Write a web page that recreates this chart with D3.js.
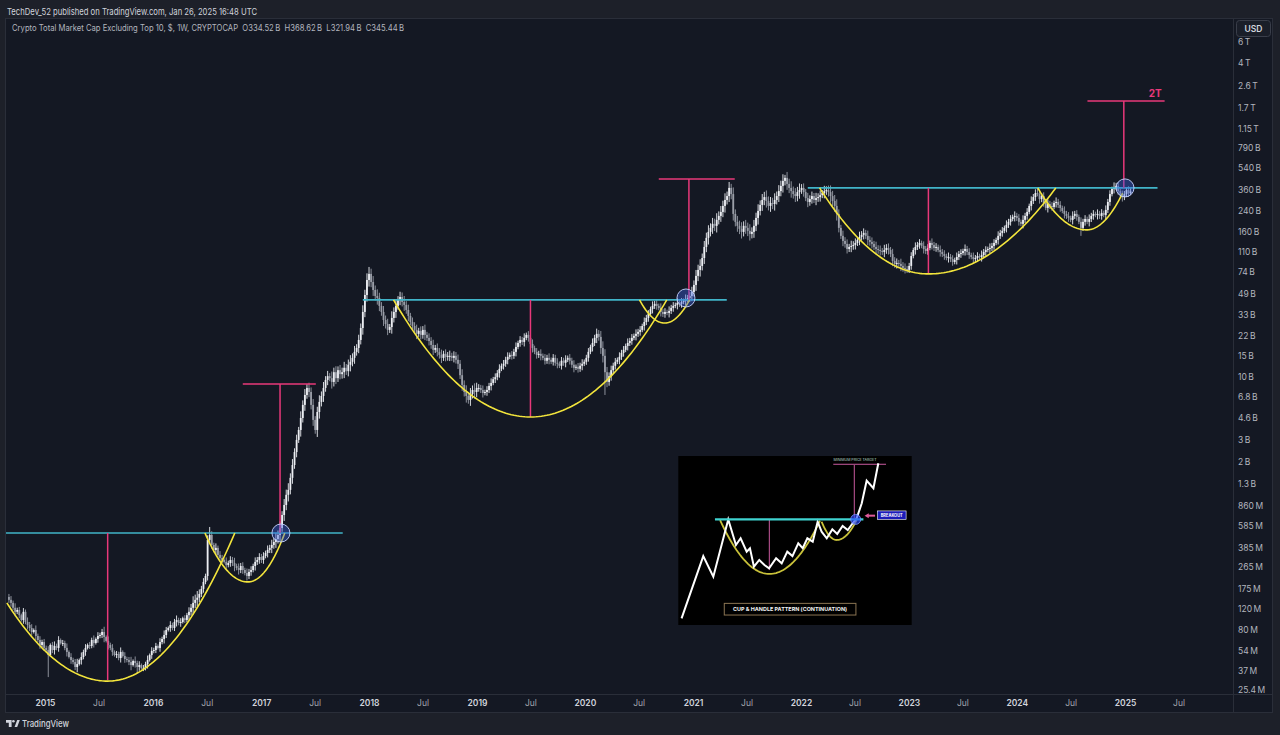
<!DOCTYPE html>
<html><head><meta charset="utf-8">
<script src="https://cdn.jsdelivr.net/npm/d3@7/dist/d3.min.js"></script>
<style>
html,body{margin:0;padding:0;background:#1d2029;}
svg{display:block;}
text{font-family:Inter,"Noto Sans",Roboto,sans-serif;}
</style></head><body>
<svg id="c" width="1280" height="735"></svg>
<script>
// ---------- DATA (weekly closes, USD millions) ----------
const firstOpen = 150;
const close2014 = [142,134,122,113,117, 106,96.7,113,93.1, 87.9,83.0,76.9,79.9, 71.3,66.0,60.0,63.5,56.7];
const close2015 = [54.5,49.5,60.0,54.5, 58.9,56.7,66.0,62.3, 62.3,56.7,52.5,47.7,45.0, 43.3,39.4,41.7,45.0, 47.7,52.5,56.7,60.0, 58.9,66.0,62.3,67.3,71.3, 72.6,76.9,69.9,64.8, 60.0,56.7,52.5,49.5, 50.5,46.8,52.5,48.6,45.9, 45.0,43.3,40.9,44.2, 42.5,39.4,40.9,38.6, 38.6,41.7,45.0,49.5,53.5];
const close2016 = [54.5,58.9,56.7,63.5, 67.3,72.6,79.9,83.0, 87.9,83.0,93.1,96.7,91.3, 93.1,100,96.7,106, 113,122,134,142, 148,159,175,200,224, 446,490,405,368, 383,335,316,304, 293,276,287,304,287, 271,261,251,271, 251,237,224,242, 251,271,293,304,322];
const close2017 = [304,328,348,368, 383,405,429,454, 490,560,718,869,1055, 1160,1459,1864,2387, 3010,3640,4575,5873, 7100,8120,7517,5873,4410, 3640,5130,6218,6967, 8120,9460,10170,9785, 9105,10970,9785,11400,10570, 10970,11930,11190,12640, 13380,14420,16170,17420, 20300,25490,34650,47910,63800];
const close2018 = [71640,61400,52700,47010, 45240,38890,34650,29700, 27530,24600,25980,30900,34650, 38890,43600,46110,41960, 39640,36000,32110,28590, 26490,24600,22800,24140,22360, 24600,22360,21120,19920, 18450,16800,17420,16170, 15270,14420,15570,14700,14990, 14990,14420,14990,13900, 12880,10360,8600,7517, 6967,6460,7238,7810,7517,8120];
const close2019 = [8120,7810,7375,7517, 7810,8439,8933,9596, 9974,10770,11700,12400,12880, 13900,14700,15270,14990, 16170,17760,19170,20300, 19540,21120,22360,21120,18810, 17420,16170,15270,15570, 14990,14420,13640,14420, 13900,13380,14420,13130,12880, 12400,13640,13130,13900, 14420,13640,12640,11930, 12160,11700,12400,12880,13380];
const close2020 = [14420,16170,17760,19170, 21120,22800,21520,17420, 14990,10970,9105,10170,11400, 12400,13380,13900,14700, 15860,16800,18110,19170, 19920,21120,21940,22800,23680, 24600,26490,28590,30900, 33360,36700,38890,40410, 38890,37420,34650,33360,34650, 34000,35330,37420,38890, 39640,41170,40410,41960, 42790,44360,45240,47010,50720];
const close2021 = [58000,68960,77300,83410, 97000,119900,142500,159800, 172500,186300,179300,201000,216800, 233900,262300,294000,316700, 370000,329000,225200,193500, 179300,169200,159800,179300,172500, 162900,153800,159800,179300, 208600,238500,267300,294000, 310600,288500,262300,277600,272500, 294000,316700,348400,384500, 423000,448100,399400,370000, 348400,329000,316700,341700,355000];
const close2022 = [370000,341700,304700,283000, 298800,316700,294000,304700, 310600,322700,335200,348400,355000, 341700,316700,288500,262300, 225200,172500,148100,134400, 127000,115300,119900,122200,124500, 129400,137000,145200,150900, 156700,148100,137000,131900, 127000,119900,115300,113000,110900, 108800,113000,117600,113000, 104700,91760,86650,88290, 86650,83410,80260,78700,77300];
const close2023 = [83410,100800,113000,119900, 124500,129400,122200,115300, 110900,117600,129400,124500,117600, 119900,113000,108800,104700, 100800,97000,98860,95120, 89990,93500,98860,104700,106700, 110900,115300,108800,102700, 98860,95120,97000,100800, 98860,102700,108800,113000,115300, 117600,122200,129400,137000, 148100,156700,162900,172500, 182700,193500,204500,212600,216800];
const close2024 = [208600,193500,186300,201000, 216800,233900,262300,288500, 310600,335200,329000,298800,316700, 277600,252400,272500,262300, 257200,277600,283000,267300, 252400,238500,225200,216800,208600, 201000,216800,225200,212600, 193500,172500,193500,204500, 193500,204500,216800,225200,220900, 225200,216800,229500,220900, 243000,283000,329000,362800, 377100,384500,348400,322700,310600,329000];
const close2025 = [355000,334520,345440];

// hand-read wick sizes per week (units of 1.5 % beyond the body)
const wick2014 = "453634253645263534";
const wick2015 = "3524635243625347263524362534726352436253472635243625";
const wick2016 = "3425364253463524365979645364536354263547364536453645";
const wick2017 = "4536475869587968574968576857968574968576857968576979";
const wick2018 = "97869758674968576857465746574657465746574657586958697";
const wick2019 = "5463546354635463546354635463546354635463546354635463";
const wick2020 = "4536475899756453645364536453645364536453645364536457";
const wick2021 = "6879687968796879687968796879687968796879687968796879";
const wick2022 = "5647564756475697896475647564756475647564756475647564";
const wick2023 = "4536453645364536453645364536453645364536453645364536";
const wick2024 = "45364536453645364536453645364536453645364536453645364";
const wick2025 = "453";

const notableHighs = [["2016-07-11",571],["2018-01-01",81800],["2021-05-10",400000],["2021-11-08",474500],["2024-03-11",370000],["2025-01-20",368620]];
const notableLows = [["2015-01-12",32.5],["2015-11-09",35],["2017-07-10",3185],["2020-03-09",7100],["2024-08-05",148100],["2025-01-20",321940]];

// axis ticks
const yTickValues = [6e6,4e6,2.6e6,1.7e6,1.15e6,790000,540000,360000,240000,160000,110000,74000,49000,33000,22000,15000,10000,6800,4600,3000,2000,1300,860,585,385,265,175,120,80,54,37,25.4];
const yTickLabels = ["6T","4T","2.6T","1.7T","1.15T","790B","540B","360B","240B","160B","110B","74B","49B","33B","22B","15B","10B","6.8B","4.6B","3B","2B","1.3B","860M","585M","385M","265M","175M","120M","80M","54M","37M","25.4M"];
const xTickDates = ["2015-01-01","2015-07-01","2016-01-01","2016-07-01","2017-01-01","2017-07-01","2018-01-01","2018-07-01","2019-01-01","2019-07-01","2020-01-01","2020-07-01","2021-01-01","2021-07-01","2022-01-01","2022-07-01","2023-01-01","2023-07-01","2024-01-01","2024-07-01","2025-01-01","2025-07-01"];
const xTickLabels = ["2015","Jul","2016","Jul","2017","Jul","2018","Jul","2019","Jul","2020","Jul","2021","Jul","2022","Jul","2023","Jul","2024","Jul","2025","Jul"];

// annotations (dates, values in USD millions)
const necklines = [["2014-08-01","2017-10-04",509],["2017-12-11","2021-04-25",43600],["2022-01-24","2025-04-21",370000]];
const cupDepths = [["2015-08-01",509,30.7],["2019-07-01",43600,4663],["2023-03-08",370000,71640]];
const targets = [["2017-03-06",509,8767,"2016-10-31","2017-07-05",""],["2020-12-18",43600,439400,"2020-09-07","2021-05-22",""],["2024-12-28",370000,1944000,"2024-08-27","2025-05-15","2T"]];
const breakouts = [["2017-03-09",509],["2020-12-08",45240],["2025-01-01",370000]];
const arcs = [
  [["2014-08-25",134],["2015-08-01",30.1],["2016-10-04",509]],
  [["2016-06-25",509],["2016-11-17",200],["2017-03-22",509]],
  [["2018-03-25",43600],["2019-07-01",4663],["2020-10-04",43600]],
  [["2020-07-04",43600],["2020-09-27",28050],["2020-12-20",43600]],
  [["2022-03-05",370000],["2023-03-08",71640],["2024-05-12",370000]],
  [["2024-03-12",370000],["2024-08-24",166000],["2024-12-24",335200]]
];

// inset diagram (own units: x 0-100, price 0-100)
const insetZX = [1.4,10.7,15.0,21.4,24.7,26.7,29.3,30.7,32.4,34.7,36.9,38.9,41.9,44.3,46.7,48.9,51.4,53.3,55.3,57.6,59.7,61.4,63.6,66.0,68.1,70.4,72.6,74.7,76.4,78.6,80.7,83.6,85.7];
const insetZP = [3.9,40.8,28.6,62.5,47.3,51.3,43.4,45.4,34.5,38.5,35.5,33.5,39.5,36.5,43.4,40.8,48.3,45.4,51.3,49.3,61.1,55.2,51.3,56.6,53.9,58.6,56.2,60.2,63.1,72.0,85.4,80.9,95.7];
const insetLevel = [15.7,79.3,62.5];
const insetCup = [[17.9,62.1],[39.0,30.2],[60.7,61.7]];
const insetHandle = [[61.4,61.1],[67.9,50.3],[76.4,62.1]];
const insetDepth = [39.0,62.5,32.5];
const insetTarget = [75.4,63.1,94.7,66.4,89.0,95.1];

// ---------- BUILD ----------
const parseDate = s => new Date(s + "T00:00:00Z");
const DAY = 864e5;
function firstMonday(yr){ let d = new Date(Date.UTC(yr,0,1)); while(d.getUTCDay()!==1) d = new Date(d.getTime()+DAY); return d; }
const yearsData = [[2014,close2014,wick2014],[2015,close2015,wick2015],[2016,close2016,wick2016],[2017,close2017,wick2017],[2018,close2018,wick2018],[2019,close2019,wick2019],[2020,close2020,wick2020],[2021,close2021,wick2021],[2022,close2022,wick2022],[2023,close2023,wick2023],[2024,close2024,wick2024],[2025,close2025,wick2025]];
const hiMap = new Map(notableHighs), loMap = new Map(notableLows);
const candles = [];
let prev = firstOpen;
yearsData.forEach(([yr, closes, wicks]) => {
  const start = yr === 2014 ? parseDate("2014-09-01") : firstMonday(yr);
  closes.forEach((c, i) => {
    const date = new Date(start.getTime() + i*7*DAY);
    const key = date.toISOString().slice(0,10);
    const o = prev;
    const w = (+wicks[i] || 3) * 1.5 / 100;
    let h = Math.max(o,c)*(1+w), l = Math.min(o,c)/(1+w);
    if (hiMap.has(key)) h = hiMap.get(key);
    if (loMap.has(key)) l = loMap.get(key);
    candles.push({date, o, h, l, c});
    prev = c;
  });
});

const svg = d3.select("#c");
const P = {l:6, r:1232, t:19, b:694};
const x = d3.scaleUtc().domain([parseDate("2015-01-01"), parseDate("2025-01-01")]).range([45, 1125]);
const y = d3.scaleLog().domain([25.4, 6e6]).range([690, 42]);

// backgrounds
svg.append("rect").attr("width",1280).attr("height",735).attr("fill","#1d2029");
svg.append("rect").attr("x",5.5).attr("y",18.5).attr("width",1267).attr("height",694).attr("fill","#141823").attr("stroke","#2a2e39");
svg.append("line").attr("x1",1233.5).attr("x2",1233.5).attr("y1",18.5).attr("y2",712.5).attr("stroke","#2a2e39");
svg.append("line").attr("x1",5.5).attr("x2",1272.5).attr("y1",694.5).attr("y2",694.5).attr("stroke","#2a2e39");

svg.append("defs").append("clipPath").attr("id","plot").append("rect")
  .attr("x",P.l).attr("y",P.t).attr("width",P.r-P.l).attr("height",P.b-P.t);
const g = svg.append("g").attr("clip-path","url(#plot)");

// candles
const upCol = "#eceef3", dnCol = "#9a9ea8";
const cg = g.append("g");
cg.selectAll("line.w").data(candles).join("line").attr("class","w")
  .attr("x1",d=>x(d.date)).attr("x2",d=>x(d.date))
  .attr("y1",d=>y(d.h)).attr("y2",d=>y(d.l))
  .attr("stroke",d=>d.c>=d.o?upCol:dnCol).attr("stroke-width",0.9);
cg.selectAll("rect.b").data(candles).join("rect").attr("class","b")
  .attr("x",d=>x(d.date)-0.9).attr("width",1.8)
  .attr("y",d=>y(Math.max(d.o,d.c)))
  .attr("height",d=>Math.max(1, y(Math.min(d.o,d.c))-y(Math.max(d.o,d.c))))
  .attr("fill",d=>d.c>=d.o?upCol:dnCol);

// annotations
const CYAN="#41b4c9", PINK="#e8387a", YEL="#f3e53c";
const ag = g.append("g");
ag.selectAll("line.neck").data(necklines).join("line").attr("class","neck")
  .attr("x1",d=>x(parseDate(d[0]))).attr("x2",d=>x(parseDate(d[1])))
  .attr("y1",d=>y(d[2])).attr("y2",d=>y(d[2]))
  .attr("stroke",CYAN).attr("stroke-width",1.6);
ag.selectAll("line.depth").data(cupDepths).join("line").attr("class","depth")
  .attr("x1",d=>x(parseDate(d[0]))).attr("x2",d=>x(parseDate(d[0])))
  .attr("y1",d=>y(d[1])).attr("y2",d=>y(d[2]))
  .attr("stroke",PINK).attr("stroke-width",1.5);
ag.selectAll("line.tv").data(targets).join("line").attr("class","tv")
  .attr("x1",d=>x(parseDate(d[0]))).attr("x2",d=>x(parseDate(d[0])))
  .attr("y1",d=>y(d[1])).attr("y2",d=>y(d[2]))
  .attr("stroke",PINK).attr("stroke-width",1.5);
ag.selectAll("line.th").data(targets).join("line").attr("class","th")
  .attr("x1",d=>x(parseDate(d[3]))).attr("x2",d=>x(parseDate(d[4])))
  .attr("y1",d=>y(d[2])).attr("y2",d=>y(d[2]))
  .attr("stroke",PINK).attr("stroke-width",1.5);
ag.selectAll("text.tl").data(targets.filter(d=>d[5])).join("text").attr("class","tl")
  .attr("x",d=>x(parseDate(d[4]))-3).attr("y",d=>y(d[2])-4)
  .attr("text-anchor","end").attr("font-size",10).attr("font-weight",700).attr("fill",PINK).text(d=>d[5]);

function arcPoints(pts){
  const [p0,pb,p1] = pts.map(([d,v])=>[x(parseDate(d)), y(v)]);
  const out=[]; const N=50;
  for(let i=0;i<=N;i++){ const xx=p0[0]+(pb[0]-p0[0])*i/N; const u=(xx-pb[0])/(p0[0]-pb[0]); out.push([xx, pb[1]+(p0[1]-pb[1])*u*u]); }
  for(let i=1;i<=N;i++){ const xx=pb[0]+(p1[0]-pb[0])*i/N; const u=(xx-pb[0])/(p1[0]-pb[0]); out.push([xx, pb[1]+(p1[1]-pb[1])*u*u]); }
  return out;
}
ag.selectAll("path.arc").data(arcs).join("path").attr("class","arc")
  .attr("d",d=>d3.line()(arcPoints(d))).attr("fill","none").attr("stroke",YEL).attr("stroke-width",1.6);
ag.selectAll("circle.bo").data(breakouts).join("circle").attr("class","bo")
  .attr("cx",d=>x(parseDate(d[0]))).attr("cy",d=>y(d[1])).attr("r",9)
  .attr("fill","rgba(60,100,230,0.4)").attr("stroke","rgba(200,212,255,0.9)").attr("stroke-width",1);

// ---------- INSET ----------
const ix = d3.scaleLinear().domain([0,100]).range([678.3,911.7]);
const iy = d3.scaleLinear().domain([0,100]).range([625,456]);
const ig = svg.append("g");
ig.append("rect").attr("x",ix(0)).attr("y",iy(100)).attr("width",ix(100)-ix(0)).attr("height",iy(0)-iy(100)).attr("fill","#000");
const IPINK="#c95a9f";
ig.append("line").attr("x1",ix(insetDepth[0])).attr("x2",ix(insetDepth[0])).attr("y1",iy(insetDepth[1])).attr("y2",iy(insetDepth[2])).attr("stroke",IPINK).attr("stroke-width",1);
ig.append("line").attr("x1",ix(insetTarget[0])).attr("x2",ix(insetTarget[0])).attr("y1",iy(insetTarget[1])).attr("y2",iy(insetTarget[2])).attr("stroke",IPINK).attr("stroke-width",1);
ig.append("line").attr("x1",ix(insetTarget[3])).attr("x2",ix(insetTarget[4])).attr("y1",iy(insetTarget[5])).attr("y2",iy(insetTarget[5])).attr("stroke",IPINK).attr("stroke-width",1);
function insetArc(pts){
  const [p0,pb,p1] = pts.map(([a,b])=>[ix(a),iy(b)]);
  const out=[]; const N=30;
  for(let i=0;i<=N;i++){ const xx=p0[0]+(pb[0]-p0[0])*i/N; const u=(xx-pb[0])/(p0[0]-pb[0]); out.push([xx,pb[1]+(p0[1]-pb[1])*u*u]); }
  for(let i=1;i<=N;i++){ const xx=pb[0]+(p1[0]-pb[0])*i/N; const u=(xx-pb[0])/(p1[0]-pb[0]); out.push([xx,pb[1]+(p1[1]-pb[1])*u*u]); }
  return d3.line()(out);
}
ig.append("path").attr("d",insetArc(insetCup)).attr("fill","none").attr("stroke","#c9c23a").attr("stroke-width",1.8);
ig.append("path").attr("d",insetArc(insetHandle)).attr("fill","none").attr("stroke","#c9c23a").attr("stroke-width",1.8);
ig.append("path").attr("d",d3.line()(insetZX.map((v,i)=>[ix(v),iy(insetZP[i])]))).attr("fill","none").attr("stroke","#ffffff").attr("stroke-width",2).attr("stroke-linejoin","miter");
ig.append("line").attr("x1",ix(insetLevel[0])).attr("x2",ix(insetLevel[1])).attr("y1",iy(insetLevel[2])).attr("y2",iy(insetLevel[2])).attr("stroke","#3fd3d0").attr("stroke-width",2.2);
ig.append("circle").attr("cx",ix(76.0)).attr("cy",iy(62.5)).attr("r",5).attr("fill","rgba(40,70,255,0.65)").attr("stroke","#7d95ff").attr("stroke-width",0.8);
ig.append("text").attr("x",ix(75.7)).attr("y",iy(97.6)+1.3).attr("text-anchor","middle").attr("font-size",3.6).attr("fill","#b9d9c9").attr("textLength",43).attr("lengthAdjust","spacingAndGlyphs").text("MINIMUM PRICE TARGET");
ig.append("line").attr("x1",ix(84.3)).attr("x2",ix(81.2)).attr("y1",iy(64.7)).attr("y2",iy(64.7)).attr("stroke","#e05a9a").attr("stroke-width",2);
ig.append("path").attr("d",`M${ix(79.8)},${iy(64.7)} L${ix(81.6)},${iy(64.7)-2.5} L${ix(81.6)},${iy(64.7)+2.5} Z`).attr("fill","#e05a9a");
ig.append("rect").attr("x",ix(85.3)).attr("y",iy(67.5)).attr("width",ix(97.6)-ix(85.3)).attr("height",iy(62.5)-iy(67.5)).attr("fill","#1c1cb8").attr("stroke","#ffffff").attr("stroke-width",0.6);
ig.append("text").attr("x",(ix(85.3)+ix(97.6))/2).attr("y",iy(65)+1.5).attr("text-anchor","middle").attr("font-size",4.2).attr("font-weight",700).attr("fill","#ffffff").attr("textLength",22).attr("lengthAdjust","spacingAndGlyphs").text("BREAKOUT");
ig.append("rect").attr("x",ix(19.7)).attr("y",iy(12.8)).attr("width",ix(76.1)-ix(19.7)).attr("height",iy(5.9)-iy(12.8)).attr("fill","none").attr("stroke","#8a7452").attr("stroke-width",1);
ig.append("text").attr("x",(ix(19.7)+ix(76.1))/2).attr("y",(iy(12.8)+iy(5.9))/2+1.9).attr("text-anchor","middle").attr("font-size",5.4).attr("font-weight",700).attr("fill","#f0f0f0").attr("textLength",114).attr("lengthAdjust","spacingAndGlyphs").text("CUP & HANDLE PATTERN (CONTINUATION)");

// ---------- AXES ----------
const gy = svg.append("g").attr("transform","translate(1233,0)")
  .call(d3.axisRight(y).tickValues(yTickValues).tickFormat((d,i)=>yTickLabels[i].replace(/([0-9])([TBM])$/,"$1\u2009$2")).tickSize(0).tickPadding(5));
gy.select(".domain").remove();
gy.selectAll("text").attr("fill","#b2b5be").attr("font-size",8.5).attr("font-family","Inter, sans-serif");

const gx = svg.append("g").attr("transform","translate(0,694)")
  .call(d3.axisBottom(x).tickValues(xTickDates.map(parseDate)).tickFormat((d,i)=>xTickLabels[i]).tickSize(0).tickPadding(6));
gx.select(".domain").remove();
gx.selectAll("text").attr("font-size",8.5).attr("font-family","Inter, sans-serif")
  .attr("fill",(d,i)=>xTickLabels[i]==="Jul"?"#a3a6af":"#d1d4dc")
  .attr("font-weight",(d,i)=>xTickLabels[i]==="Jul"?400:600);

// USD box
svg.append("rect").attr("x",1236.5).attr("y",20.5).attr("width",34).attr("height",16).attr("rx",3).attr("fill","#1a1e29").attr("stroke","#3a3e4a");
svg.append("text").attr("x",1253.5).attr("y",31.5).attr("text-anchor","middle").attr("font-size",8.5).attr("font-weight",600).attr("fill","#d1d4dc").text("USD");

// header / legend / footer
svg.append("text").attr("x",7).attr("y",14.8).attr("font-size",9.5).attr("fill","#d1d4dc").attr("textLength",250).attr("lengthAdjust","spacingAndGlyphs")
  .text("TechDev_52 published on TradingView.com, Jan 26, 2025 16:48 UTC");
svg.append("text").attr("x",12).attr("y",31.2).attr("font-size",8.5).attr("fill","#b2b5be").attr("textLength",392).attr("lengthAdjust","spacingAndGlyphs").attr("xml:space","preserve")
  .text("Crypto Total Market Cap Excluding Top 10, $, 1W, CRYPTOCAP  O334.52\u2009B  H368.62\u2009B  L321.94\u2009B  C345.44\u2009B");
const lg = svg.append("g").attr("fill","#d1d4dc");
lg.append("path").attr("d","M6,720 h5.6 v7 h-2.8 v-4.3 h-2.8 z");
lg.append("circle").attr("cx",13.4).attr("cy",721.3).attr("r",1.3);
lg.append("path").attr("d","M14.6,727 L17.2,720 H19.8 L17.2,727 Z");
svg.append("text").attr("x",22).attr("y",727).attr("font-size",9.5).attr("font-weight",500).attr("fill","#d1d4dc").attr("textLength",47).attr("lengthAdjust","spacingAndGlyphs").text("TradingView");
</script></body></html>
